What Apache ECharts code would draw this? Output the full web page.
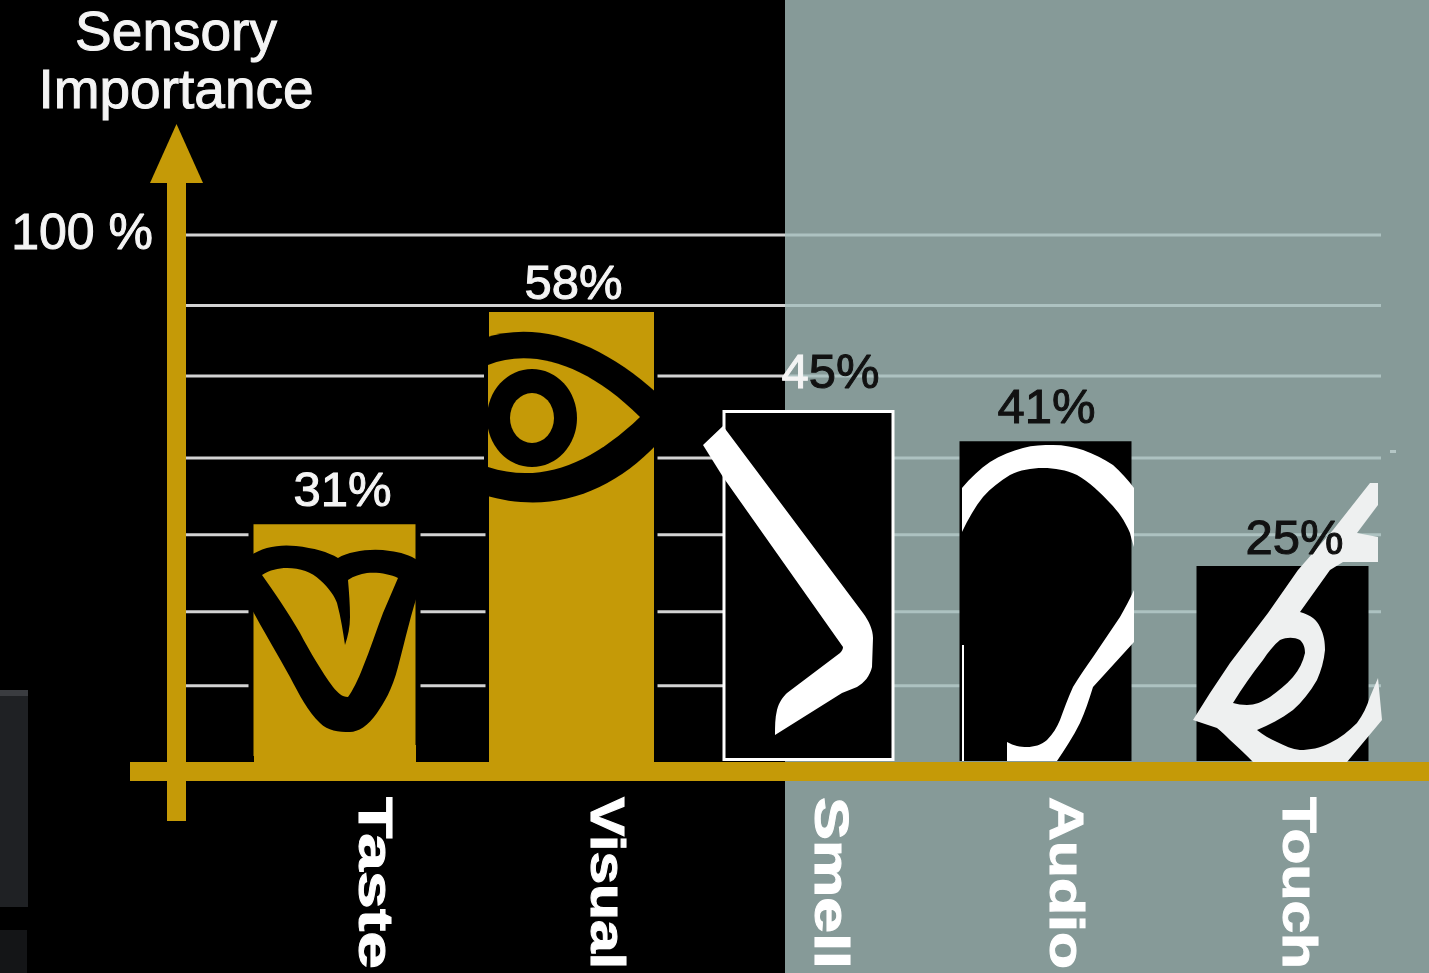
<!DOCTYPE html>
<html>
<head>
<meta charset="utf-8">
<style>html,body{margin:0;padding:0;background:#000}#chart{width:1429px;height:973px}</style>
<script src="https://cdn.jsdelivr.net/npm/echarts@6/dist/echarts.min.js"></script>
</head>
<body>
<div id="chart"></div>
<script>
// Sensory importance figures
const categories = ['Taste', 'Visual', 'Smell', 'Audio', 'Touch'];
const importance = [31, 58, 45, 41, 25];
const referenceLevels = [14.3, 28.4, 43, 57.6, 73.2, 86.6, 100];
const referenceTicks = [100];

const GOLD = '#c59a07';
const SLATE = '#869a98';
const FONT = '"Liberation Sans", Arial, sans-serif';

// Per-category appearance
const barStyles = [
  { color: GOLD, borderColor: '#000', borderWidth: 5 },
  { color: GOLD, borderColor: '#000', borderWidth: 3.5 },
  { color: '#000', borderColor: '#fff', borderWidth: 3 },
  { color: '#000', borderWidth: 0 },
  { color: '#000', borderWidth: 0 }
];
const valueLabelShift = [[8, -2], [2, 1], [22, -11], [1, -7], [12, -1]];
const nameShift = [38, 33, 20, 18, 14];

// Sense icons, each drawn in its own space and anchored at the foot of its bar
const icons = [
  { origin: [334.5, 761], parts: [
    { fill: GOLD, d: 'M254 745L416 745L416 764L254 764Z' },
    { fill: '#000', d: 'M250 556C262 547 280 544 296 546C314 548 328 552 338 558C350 551 372 548 390 551C400 552 410 555 419 561L419 590C412 610 405 640 398 667C392 690 384 703 377 713C368 726 358 732 350 732C338 732 328 731 320 723C308 712 299 694 290 677C278 655 264 632 250 606Z' },
    { fill: GOLD, d: 'M262 575C270 570 278 568 287 568C300 568 312 572 320 580C330 589 335 597 337 603C341 618 343 632 345 645C348 636 350 627 350 617C350 604 349 592 348 580C354 576 360 574 367 573C378 572 390 574 398 578C393 590 388 601 383 613C376 631 370 650 363 667C358 680 353 690 348 697C342 697 338 693 333 687C322 672 310 652 300 633C288 612 274 592 262 575Z' }
  ]},
  { origin: [571.5, 761], parts: [
    { fill: GOLD, d: 'M489 745L654 745L654 764L489 764Z' },
    { fill: '#000', d: 'M484 338C540 320 600 342 658 394L658 443C610 494 550 515 484 495Z' },
    { fill: GOLD, d: 'M488 365C530 348 585 362 640 417C590 465 540 484 488 467Z' },
    { fill: '#000', d: 'M487 418A45 49 0 1 0 577 418A45 49 0 1 0 487 418Z' },
    { fill: GOLD, d: 'M510 418A22 25 0 1 0 554 418A22 25 0 1 0 510 418Z' }
  ]},
  { origin: [808.5, 761], parts: [
    { fill: '#fff', d: 'M703 445L723 426L863 613C869 621 873 630 873 638L872 667C870 676 864 683 857 687L842 693L775 735C775 726 775 718 777 710C779 702 783 697 787 693L840 653C842 651 843 649 843 647L723 477Z' }
  ]},
  { origin: [1045.5, 761], parts: [
    { fill: '#fff', d: 'M962 488C970 478 980 469 990 462C1001 455 1012 451 1023 448C1033 445 1043 445 1053 445C1064 445 1074 447 1083 450C1094 454 1104 459 1113 465C1121 472 1128 480 1134 488L1134 642L1093 687C1089 700 1085 712 1080 723C1073 737 1065 749 1057 761L1007 761L1007 742C1014 746 1020 747 1027 747C1034 747 1041 745 1047 740C1053 734 1057 727 1060 720C1064 709 1068 698 1073 687C1079 677 1086 667 1093 657L1120 617C1125 608 1130 599 1134 590L1134 547C1132 541 1131 537 1130 533C1125 521 1118 511 1110 503C1100 492 1089 482 1077 475C1066 470 1055 468 1043 468C1031 468 1020 470 1010 475C1000 481 991 488 983 497C975 507 968 519 962 532Z' },
    { fill: '#fff', d: 'M962 645L964 645L964 761L962 761Z' }
  ]},
  { origin: [1282.5, 761], parts: [
    { fill: '#eef0f0', d: 'M1370 483L1378 483L1378 505L1357 533L1378 537L1378 562L1343 562L1330 570L1300 612C1311 615 1317 620 1320 627C1324 635 1325 642 1325 650C1324 661 1321 671 1317 680C1310 692 1302 702 1293 710C1281 719 1269 725 1257 730C1263 735 1270 739 1277 742C1285 746 1292 749 1300 750C1310 750 1320 748 1330 743C1340 738 1349 731 1357 723C1363 715 1367 706 1370 697L1378 678L1382 720L1347 762L1253 762C1246 755 1238 747 1230 740C1226 736 1222 732 1217 728L1193 720L1210 693L1230 663L1268 613L1298 570L1333 530Z' },
    { fill: '#000', d: 'M1233 703C1242 688 1252 674 1263 660C1268 652 1274 645 1280 640C1287 637 1294 637 1300 640C1304 644 1305 648 1305 653C1303 662 1299 670 1293 677C1286 685 1278 691 1270 697C1262 702 1255 705 1247 705C1242 705 1237 704 1233 703Z' }
  ]}
];

// Width every rotated category name is stretched to along its reading direction
const measureCtx = document.createElement('canvas').getContext('2d');
const NAME_FONT_SIZE = 48;
const NAME_LENGTH = 172;
function nameStretch(text) {
  measureCtx.font = 'bold ' + NAME_FONT_SIZE + 'px ' + FONT;
  return NAME_LENGTH / measureCtx.measureText(text).width;
}

const chart = echarts.init(document.getElementById('chart'), null, { renderer: 'canvas' });

function lineSegment(x1, x2, y, stroke) {
  return { type: 'rect', shape: { x: x1, y: y - 1.5, width: x2 - x1, height: 3 }, style: { fill: stroke } };
}

const lightText = { color: '#f4f4f4', fontFamily: FONT, fontSize: 49, textBorderColor: '#f4f4f4', textBorderWidth: 1 };
const darkText = { color: '#111', fontFamily: FONT, fontSize: 49, textBorderColor: '#111', textBorderWidth: 1 };

chart.setOption({
  animation: false,
  backgroundColor: '#000',
  title: {
    text: 'Sensory\nImportance',
    left: 171,
    top: 1,
    textAlign: 'center',
    textStyle: {
      color: '#f4f4f4', fontFamily: FONT, fontWeight: 'normal', fontSize: 55, lineHeight: 58,
      textBorderColor: '#f4f4f4', textBorderWidth: 1
    }
  },
  grid: { left: 216, top: 0, width: 1185, height: 761 },
  xAxis: {
    type: 'category',
    data: categories,
    axisLine: { show: false },
    axisTick: { show: false },
    axisLabel: { show: false },
    splitLine: { show: false }
  },
  yAxis: [
    { type: 'value', min: 0, max: 97.56, show: false, splitLine: { show: false } },
    {
      type: 'value', min: 0, max: 144.7, position: 'left',
      axisLine: { show: false },
      axisTick: { show: false },
      splitLine: { show: false },
      axisLabel: {
        customValues: referenceTicks,
        formatter: '{value} %',
        margin: 63,
        color: '#f4f4f4',
        fontFamily: FONT,
        fontSize: 50,
        textBorderColor: '#f4f4f4',
        textBorderWidth: 1
      }
    }
  ],
  graphic: [
    { type: 'rect', z: 0, shape: { x: 785, y: 0, width: 644, height: 973 }, style: { fill: SLATE } },
    { type: 'rect', z: 0, shape: { x: 0, y: 690, width: 28, height: 217 }, style: { fill: '#1f2124' } },
    { type: 'rect', z: 0, shape: { x: 0, y: 690, width: 28, height: 6 }, style: { fill: '#3a3c40' } },
    { type: 'rect', z: 0, shape: { x: 0, y: 930, width: 27, height: 43 }, style: { fill: '#141517' } },
    { type: 'rect', z: 0, shape: { x: 1390, y: 450, width: 6, height: 3 }, style: { fill: '#b4c6c5' } },
    { type: 'rect', z: 10, shape: { x: 167, y: 180, width: 19, height: 641 }, style: { fill: GOLD } },
    { type: 'polygon', z: 10, shape: { points: [[176.5, 124], [203, 183], [150, 183]] }, style: { fill: GOLD } },
    { type: 'rect', z: 10, shape: { x: 130, y: 762, width: 1299, height: 19 }, style: { fill: GOLD } }
  ],
  series: [
    {
      // Horizontal reference rules, tinted for each side of the backdrop
      type: 'custom',
      yAxisIndex: 1,
      z: 1,
      silent: true,
      clip: false,
      data: referenceLevels.map(v => [0, v]),
      renderItem(params, api) {
        const y = api.coord([0, api.value(1)])[1];
        return {
          type: 'group',
          children: [
            lineSegment(186, 785, y, '#d2d2d2'),
            lineSegment(785, 1381, y, '#adc2c1')
          ]
        };
      }
    },
    {
      type: 'bar',
      z: 2,
      barWidth: 172,
      silent: true,
      data: importance.map((v, i) => ({ value: v, itemStyle: barStyles[i] }))
    },
    {
      // Sense icons sit on top of their bars
      type: 'custom',
      z: 3,
      silent: true,
      clip: false,
      data: importance.map((v, i) => [i, v]),
      renderItem(params, api) {
        const icon = icons[params.dataIndex];
        const foot = api.coord([api.value(0), 0]);
        return {
          type: 'group',
          x: foot[0] - icon.origin[0],
          y: foot[1] - icon.origin[1],
          children: icon.parts.map(p => ({
            type: 'path',
            shape: { pathData: p.d },
            style: { fill: p.fill }
          }))
        };
      }
    },
    {
      // Percentage labels; the Smell label straddles the backdrop edge
      type: 'scatter',
      z: 4,
      silent: true,
      symbolSize: 0,
      itemStyle: { opacity: 1 },
      data: importance.map((v, i) => ({
        value: [i, v],
        label: {
          show: true,
          position: 'top',
          distance: 0,
          offset: valueLabelShift[i],
          formatter: i < 2 ? '{light|' + v + '%}'
            : i === 2 ? '{light|' + String(v)[0] + '}{dark|' + String(v)[1] + '%}'
            : '{dark|' + v + '%}',
          rich: { light: lightText, dark: darkText }
        }
      }))
    },
    {
      // Category names read downwards beneath the baseline
      type: 'custom',
      z: 4,
      silent: true,
      clip: false,
      data: categories.map((c, i) => [i, 0]),
      renderItem(params, api) {
        const i = params.dataIndex;
        const foot = api.coord([i, 0]);
        const name = categories[i];
        return {
          type: 'text',
          x: foot[0] + nameShift[i],
          y: foot[1] + 36,
          rotation: -Math.PI / 2,
          scaleX: nameStretch(name),
          style: {
            text: name,
            fill: '#fff',
            font: 'bold ' + NAME_FONT_SIZE + 'px ' + FONT,
            stroke: '#fff',
            lineWidth: 1,
            align: 'left',
            verticalAlign: 'middle'
          }
        };
      }
    }
  ]
});
</script>
</body>
</html>
